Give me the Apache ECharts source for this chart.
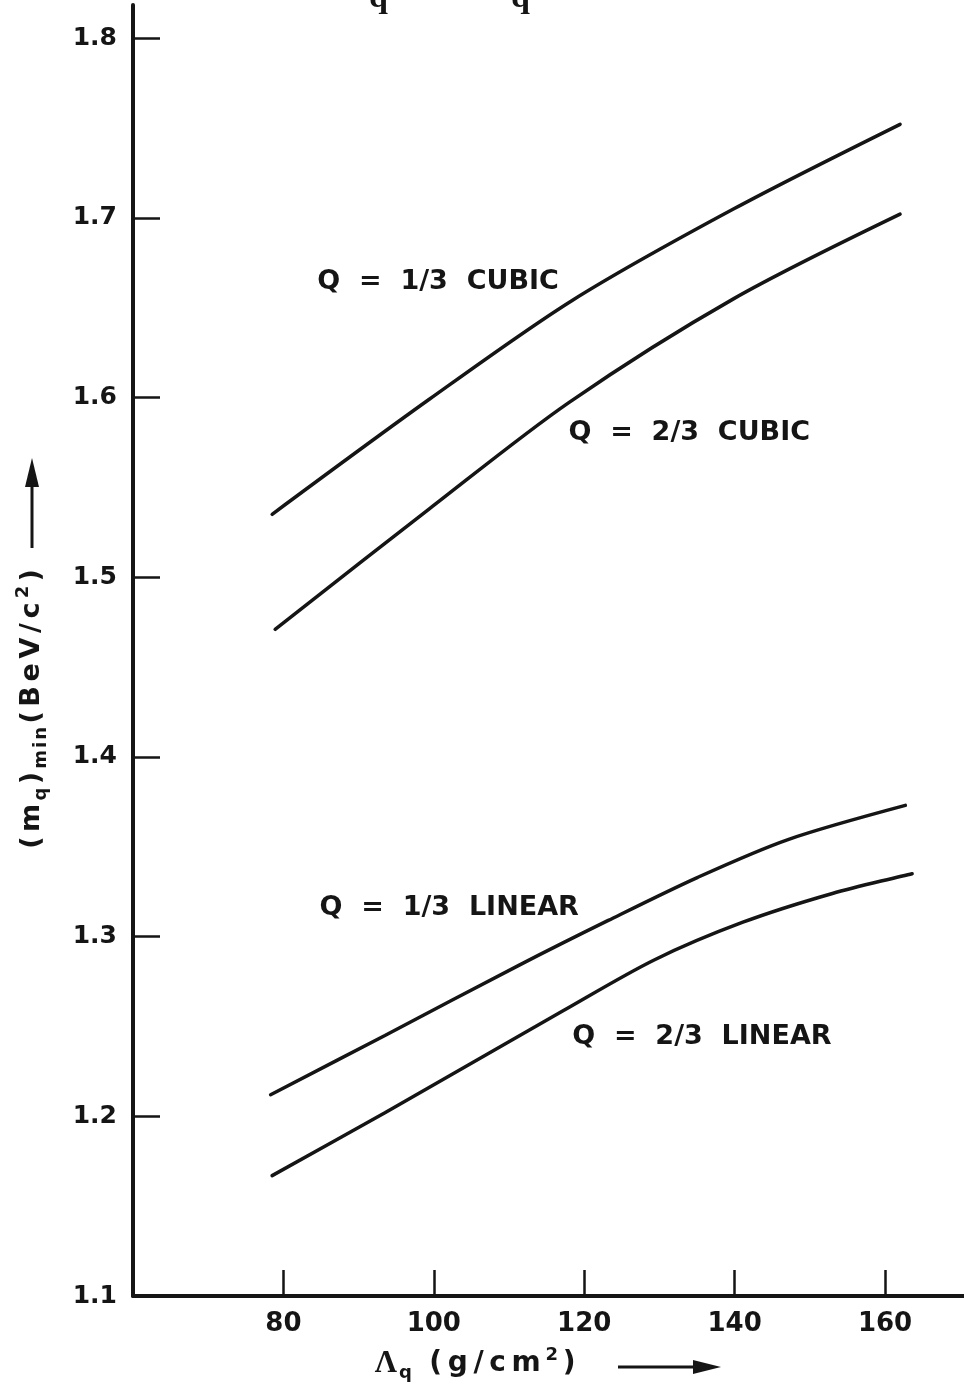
<!DOCTYPE html>
<html>
<head>
<meta charset="utf-8">
<script src="https://cdn.jsdelivr.net/npm/echarts@6/dist/echarts.min.js"></script>
<style>
  html, body { margin: 0; padding: 0; background: #ffffff; }
  #chart { width: 964px; height: 1389px; }
</style>
</head>
<body>
<div id="chart"></div>
<script>
// Axis ticks
const lambdaTicks = [80, 100, 120, 140, 160];
const massTicks = [1.1, 1.2, 1.3, 1.4, 1.5, 1.6, 1.7, 1.8];

// Minimum quark mass (BeV/c^2) vs absorption length Λq (g/cm^2)
const cubicThirdX = [78.5, 99.4, 118.4, 139.9, 162.0];
const cubicThirdY = [1.535, 1.599, 1.654, 1.705, 1.752];

const cubicTwoThirdsX = [78.9, 99.4, 117.9, 139.9, 162.0];
const cubicTwoThirdsY = [1.471, 1.538, 1.597, 1.655, 1.702];

const linearThirdX = [78.3, 93.5, 111.3, 123.2, 135.1, 147.1, 162.7];
const linearThirdY = [1.212, 1.245, 1.284, 1.309, 1.333, 1.354, 1.373];

const linearTwoThirdsX = [78.5, 93.5, 117.3, 129.3, 141.1, 153.0, 163.6];
const linearTwoThirdsY = [1.167, 1.202, 1.259, 1.287, 1.308, 1.324, 1.335];

// Curve captions and where each caption starts (left edge, vertical middle)
const curveNames = ['Q  =  1/3  CUBIC', 'Q  =  2/3  CUBIC', 'Q  =  1/3  LINEAR', 'Q  =  2/3  LINEAR'];
const captionX = [84.5, 117.9, 84.8, 118.4];
const captionY = [1.664, 1.580, 1.316, 1.244];

const INK = '#151515';
const SANS = 'DejaVu Sans';

const zip = (xs, ys) => xs.map((x, i) => [x, ys[i]]);

// Lettering is widely spaced: emit one rich token per character so each gets side padding.
const spaced = (str, style) => str.split('').map(ch => '{' + style + '|' + ch + '}').join('');

function curve(name, xs, ys) {
  return {
    name: name,
    type: 'line',
    data: zip(xs, ys),
    smooth: 0.3,
    symbol: 'none',
    silent: true,
    lineStyle: { color: INK, width: 3.5, cap: 'round' }
  };
}

function letterStyle(size, align, pad, family) {
  return {
    fontFamily: family || SANS, fontWeight: 'bold', fontSize: size, color: INK,
    lineHeight: 36, verticalAlign: align, padding: [0, pad, 0, pad]
  };
}

const chart = echarts.init(document.getElementById('chart'), null, { renderer: 'canvas' });

const option = {
  animation: false,
  backgroundColor: '#ffffff',
  grid: { left: 133, right: 0, top: 5, bottom: 93, containLabel: false },
  xAxis: {
    type: 'value',
    min: 60,
    max: 170.5,
    axisLine: { show: true, onZero: false, lineStyle: { color: INK, width: 4 } },
    axisTick: { show: true, inside: true, length: 26, customValues: lambdaTicks,
                lineStyle: { color: INK, width: 2.5 } },
    axisLabel: { customValues: lambdaTicks, margin: 15, color: INK,
                 fontFamily: SANS, fontWeight: 'bold', fontSize: 26 },
    splitLine: { show: false },
    name: '{L|Λ}{s|q}{gap| }' + spaced('(g/cm', 't') + '{p|2}{t|)}',
    nameLocation: 'middle',
    nameGap: 50,
    nameTextStyle: {
      color: INK,
      padding: [0, 145, 0, 0],
      rich: {
        L: letterStyle(31, 'middle', 1, 'Liberation Serif'),
        t: letterStyle(28, 'middle', 2.8),
        s: letterStyle(18, 'bottom', 1),
        p: letterStyle(18, 'top', 2),
        gap: letterStyle(28, 'middle', 2)
      }
    }
  },
  yAxis: {
    type: 'value',
    min: 1.1,
    max: 1.8184,
    axisLine: { show: true, onZero: false, lineStyle: { color: INK, width: 4 } },
    axisTick: { show: true, inside: true, length: 27, customValues: massTicks.slice(1),
                lineStyle: { color: INK, width: 2.5 } },
    axisLabel: { customValues: massTicks, margin: 16, color: INK,
                 fontFamily: SANS, fontWeight: 'bold', fontSize: 25,
                 formatter: v => v.toFixed(1) },
    splitLine: { show: false },
    name: spaced('(m', 't') + '{s|q}{t|)}' + spaced('min', 's') + spaced('(BeV/c', 't') + '{p|2}{t|)}',
    nameLocation: 'middle',
    nameRotate: 90,
    nameGap: 83,
    nameTextStyle: {
      color: INK,
      padding: [0, 117, 0, 0],
      rich: {
        t: letterStyle(27, 'middle', 2.3),
        s: letterStyle(18, 'bottom', 1),
        p: letterStyle(18, 'top', 2)
      }
    }
  },
  series: [
    curve('Q = 1/3 CUBIC', cubicThirdX, cubicThirdY),
    curve('Q = 2/3 CUBIC', cubicTwoThirdsX, cubicTwoThirdsY),
    curve('Q = 1/3 LINEAR', linearThirdX, linearThirdY),
    curve('Q = 2/3 LINEAR', linearTwoThirdsX, linearTwoThirdsY),
    {
      name: 'captions',
      type: 'scatter',
      silent: true,
      symbolSize: 0,
      itemStyle: { opacity: 1 },
      data: curveNames.map((n, i) => ({ name: n, value: [captionX[i], captionY[i]] })),
      label: {
        show: true,
        position: 'right',
        distance: 0,
        formatter: '{b}',
        color: INK,
        opacity: 1,
        fontFamily: SANS,
        fontWeight: 'bold',
        fontSize: 27
      }
    }
  ],
  graphic: [
    // arrow beside the vertical axis title
    { type: 'line', silent: true, shape: { x1: 32, y1: 548, x2: 32, y2: 482 },
      style: { stroke: INK, lineWidth: 3 } },
    { type: 'polygon', silent: true, shape: { points: [[32, 458], [25, 487], [39, 487]] },
      style: { fill: INK } },
    // arrow after the horizontal axis title
    { type: 'line', silent: true, shape: { x1: 618, y1: 1367, x2: 696, y2: 1367 },
      style: { stroke: INK, lineWidth: 3 } },
    { type: 'polygon', silent: true, shape: { points: [[721, 1367], [693, 1360], [693, 1374]] },
      style: { fill: INK } },
    // tails of the caption line above the plot
    { type: 'text', silent: true, left: 369, top: -19,
      style: { text: 'q', fill: INK, font: 'bold 34px "Liberation Serif"' } },
    { type: 'text', silent: true, left: 511, top: -19,
      style: { text: 'q', fill: INK, font: 'bold 34px "Liberation Serif"' } }
  ]
};

chart.setOption(option);
</script>
</body>
</html>
